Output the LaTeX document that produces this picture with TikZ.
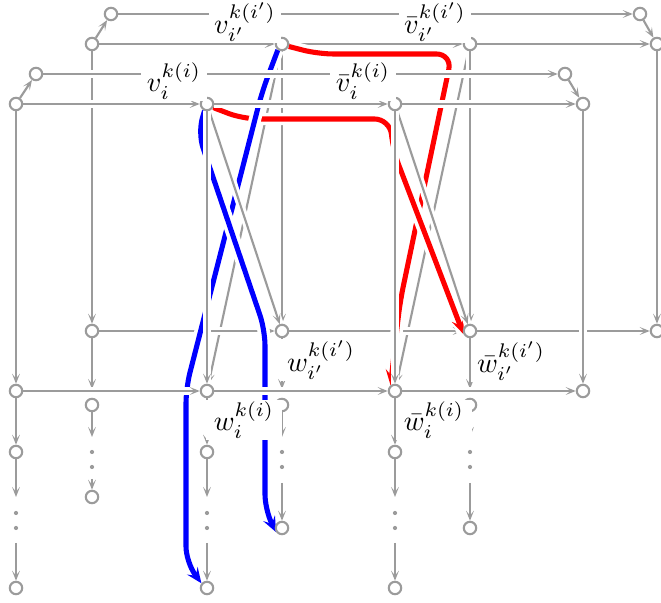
\documentclass[tikz,border=0pt]{standalone}
\usetikzlibrary{arrows.meta}
\definecolor{gr}{RGB}{155,155,155}
\definecolor{pblue}{RGB}{0,0,255}
\definecolor{pred}{RGB}{255,0,0}
\pgfdeclarelayer{edges}
\pgfdeclarelayer{labels}
\pgfsetlayers{edges,main,labels}
\tikzset{
 vx/.style={circle,draw=gr,line width=0.75pt,fill=white,minimum size=4.4pt,inner sep=0pt},
 ge/.style={draw=gr,line width=0.75pt,-{Stealth[length=3.6pt,width=2.8pt,inset=1.8pt]},preaction={draw=white,line width=2.8pt,arrows=-}},
 cpath/.style={line width=1.8pt,rounded corners=5.5pt,-{Stealth[length=5.5pt,width=4.6pt,inset=2.2pt]},preaction={draw=white,line width=4.4pt,arrows=-}},
 lab/.style={fill=white,inner xsep=2pt,inner ysep=0.6pt,anchor=center},
}
\begin{document}
\begin{tikzpicture}[x=0.355pt,y=-0.355pt]
\useasboundingbox (0,0) rectangle (661,603);
% ---------- back layer nodes (i') ----------
\node[vx] (P)   at (92,44) {};
\node[vx] (P2)  at (111,14) {};
\node[vx] (vp)  at (282,44) {};
\node[vx] (vbp) at (470,44) {};
\node[vx] (Q2)  at (640,14) {};
\node[vx] (Q)   at (657,44) {};
\node[vx] (R)   at (92,331) {};
\node[vx] (wp)  at (282,331) {};
\node[vx] (wbp) at (470,331) {};
\node[vx] (S)   at (657,331) {};
\node[vx] (R1)  at (92,405) {};
\node[vx] (wp1) at (282,405) {};
\node[vx] (wbp1) at (470,405) {};
\node[vx] (R2)  at (92,497) {};
\node[vx] (wp2) at (282,528) {};
\node[vx] (wbp2) at (470,528) {};
% ---------- front layer nodes (i) ----------
\node[vx] (A)   at (16,104) {};
\node[vx] (A2)  at (36,74) {};
\node[vx] (vi)  at (207,104) {};
\node[vx] (vbi) at (395,104) {};
\node[vx] (C2)  at (565,74) {};
\node[vx] (C)   at (583,104) {};
\node[vx] (D)   at (16,391) {};
\node[vx] (wi)  at (207,391) {};
\node[vx] (wbi) at (395,391) {};
\node[vx] (E)   at (583,391) {};
\node[vx] (D1)  at (16,452) {};
\node[vx] (wi1) at (207,452) {};
\node[vx] (wbi1) at (395,452) {};
\node[vx] (D2)  at (16,588) {};
\node[vx] (wi2) at (207,588) {};
\node[vx] (wbi2) at (395,588) {};
% ---------- free ends ----------
\coordinate (Rt) at (92,389);
\coordinate (wpt) at (282,389);
\coordinate (wbpt) at (470,389);
\coordinate (R1b) at (92,437);
\coordinate (wp1b) at (282,437);
\coordinate (wbp1b) at (470,437);
\coordinate (R2a) at (92,479);
\coordinate (wp2a) at (282,483);
\coordinate (wbp2a) at (470,483);
\coordinate (D1b) at (16,497);
\coordinate (wi1b) at (207,497);
\coordinate (wbi1b) at (395,497);
\coordinate (D2a) at (16,543);
\coordinate (wi2a) at (207,543);
\coordinate (wbi2a) at (395,543);
% dots
\foreach \x in {92,282,470} {\fill[gr] (\x,452) circle (0.75pt); \fill[gr] (\x,467) circle (0.75pt);}
\foreach \x in {16,207,395} {\fill[gr] (\x,513) circle (0.75pt); \fill[gr] (\x,528) circle (0.75pt);}
\begin{pgfonlayer}{edges}
% ---------- back gray edges ----------
\draw[ge] (vp) -- (wi);
\draw[ge] (vbp) -- (wbi);
\draw[ge] (P) -- (R);
\draw[ge] (vp) -- (wp);
\draw[ge] (vbp) -- (wbp);
\draw[ge] (Q) -- (S);
\draw[ge] (R) -- (Rt);
\draw[ge] (wp) -- (wpt);
\draw[ge] (wbp) -- (wbpt);
\draw[ge] (R1) -- (R1b);
\draw[ge] (wp1) -- (wp1b);
\draw[ge] (wbp1) -- (wbp1b);
\draw[ge] (R2a) -- (R2);
\draw[ge] (wp2a) -- (wp2);
\draw[ge] (wbp2a) -- (wbp2);
\draw[ge] (P) -- (P2);
\draw[ge] (P2) -- (Q2);
\draw[ge] (Q2) -- (Q);
\draw[ge] (P) -- (vp);
\draw[ge] (vp) -- (vbp);
\draw[ge] (vbp) -- (Q);
\draw[ge] (R) -- (wp);
\draw[ge] (wp) -- (wbp);
\draw[ge] (wbp) -- (S);
% ---------- coloured paths ----------
\draw[cpath,pred] (vp.-20) -- (318,54) -- (452,54) -- (400,302) -- (wbi.128);
\draw[cpath,pred] (vi.-30) -- (243,119) -- (390,119) -- (393,150) -- (wbp.205);
\draw[cpath,pblue] (vp.235) -- (262,92) -- (186,388) -- (186,562) -- (wi2.140);
\draw[cpath,pblue] (vi.250) -- (198,133) -- (265,330) -- (265,510) -- (wp2.215);
% ---------- front gray edges ----------
\draw[ge] (vi) -- (wp);
\draw[ge] (vbi) -- (wbp);
\draw[ge] (A) -- (D);
\draw[ge] (vi) -- (wi);
\draw[ge] (vbi) -- (wbi);
\draw[ge] (C) -- (E);
\draw[ge] (D) -- (D1);
\draw[ge] (wi) -- (wi1);
\draw[ge] (wbi) -- (wbi1);
\draw[ge] (D1) -- (D1b);
\draw[ge] (wi1) -- (wi1b);
\draw[ge] (wbi1) -- (wbi1b);
\draw[ge] (D2a) -- (D2);
\draw[ge] (wi2a) -- (wi2);
\draw[ge] (wbi2a) -- (wbi2);
\draw[ge] (A) -- (A2);
\draw[ge] (A2) -- (C2);
\draw[ge] (C2) -- (C);
\draw[ge] (A) -- (vi);
\draw[ge] (vi) -- (vbi);
\draw[ge] (vbi) -- (C);
\draw[ge] (D) -- (wi);
\draw[ge] (wi) -- (wbi);
\draw[ge] (wbi) -- (E);
\end{pgfonlayer}
\begin{pgfonlayer}{labels}
\node[lab] (lvp)  at (245,22) {$v_{i'}^{k(i')}$};
\node[lab] (lvbp) at (435,22) {$\bar v_{i'}^{k(i')}$};
\node[lab] (lvi)  at (174,81) {$v_{i}^{k(i)}$};
\node[lab] (lvbi) at (363,81) {$\bar v_{i}^{k(i)}$};
\node[lab] (lwp)  at (321,360) {$w_{i'}^{k(i')}$};
\node[lab] (lwbp) at (511,361) {$\bar w_{i'}^{k(i')}$};
\node[lab,inner xsep=2.6pt] (lwi)  at (244,420) {$w_{i}^{k(i)}$};
\node[lab,inner xsep=2.6pt] (lwbi) at (434,420) {$\bar w_{i}^{k(i)}$};
\end{pgfonlayer}
\end{tikzpicture}
\end{document}
